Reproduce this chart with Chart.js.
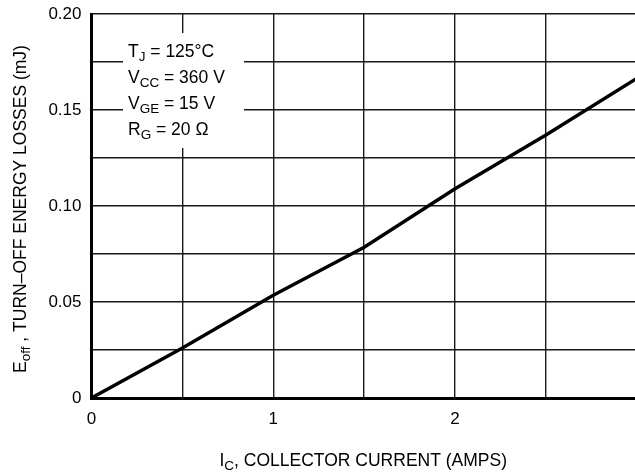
<!DOCTYPE html>
<html>
<head>
<meta charset="utf-8">
<script src="https://cdn.jsdelivr.net/npm/chart.js@4/dist/chart.umd.min.js"></script>
<style>
  html, body { margin: 0; padding: 0; background: #fff; }
  #wrap { width: 635px; height: 474px; }
</style>
</head>
<body>
<div id="wrap"><canvas id="c" width="635" height="474"></canvas></div>
<script>
// Turn-off energy loss vs. collector current
const currentAmps = [0, 0.5, 1, 1.5, 2, 2.5, 3];
const energyMJ    = [0, 0.026, 0.0535, 0.0785, 0.109, 0.137, 0.1665];

const xTickLabels = ['0', '1', '2'];
const yTickLabels = ['0', '0.05', '0.10', '0.15', '0.20'];

// Test conditions, each line split into [text, isSubscript] runs
const conditionLines = [
  [['T', false], ['J', true], [' = 125\u00B0C', false]],
  [['V', false], ['CC', true], [' = 360 V', false]],
  [['V', false], ['GE', true], [' = 15 V', false]],
  [['R', false], ['G', true], [' = 20 \u03A9', false]]
];
const xTitle = [['I', false], ['C', true], [', COLLECTOR CURRENT (AMPS)', false]];
const yTitle = [['E', false], ['off', true], [' , TURN\u2013OFF ENERGY LOSSES (mJ)', false]];

const FONT = '"Liberation Sans", Arial, Helvetica, sans-serif';
const BASE = 17.5;
const SUB = 13.5;

function runsWidth(ctx, runs) {
  let w = 0;
  for (const [t, sub] of runs) {
    ctx.font = (sub ? SUB : BASE) + 'px ' + FONT;
    w += ctx.measureText(t).width;
  }
  return w;
}
function drawRuns(ctx, runs, x, y) {
  ctx.textAlign = 'left';
  ctx.textBaseline = 'alphabetic';
  for (const [t, sub] of runs) {
    ctx.font = (sub ? SUB : BASE) + 'px ' + FONT;
    ctx.fillText(t, x, y + (sub ? 4 : 0));
    x += ctx.measureText(t).width;
  }
}

const annotations = {
  id: 'annotations',
  afterDraw(chart) {
    const ctx = chart.ctx;
    const area = chart.chartArea;
    ctx.save();
    ctx.fillStyle = '#fff';
    ctx.fillRect(123, 33, 121, 115);
    ctx.fillStyle = '#000';
    conditionLines.forEach((runs, i) => drawRuns(ctx, runs, 128, 56.5 + i * 26.3));

    // x-axis title
    const xw = runsWidth(ctx, xTitle);
    drawRuns(ctx, xTitle, (area.left + 635) / 2 - xw / 2, 466);

    // y-axis title, rotated
    const yw = runsWidth(ctx, yTitle);
    ctx.translate(25.5, 209);
    ctx.rotate(-Math.PI / 2);
    drawRuns(ctx, yTitle, -yw / 2, 0);
    ctx.restore();
  }
};

// keep the plot edges fixed regardless of tick label overflow
function noScalePadding(scale) {
  scale.paddingTop = 0;
  scale.paddingBottom = 0;
  scale.paddingLeft = 0;
  scale.paddingRight = 0;
}

const onHalfStep = v => Math.abs(v * 2 - Math.round(v * 2)) < 1e-6;

new Chart(document.getElementById('c'), {
  type: 'scatter',
  data: {
    datasets: [{
      data: currentAmps.map((x, i) => ({ x, y: energyMJ[i] })),
      showLine: true,
      borderColor: '#000',
      borderWidth: 3.4,
      pointRadius: 0,
      tension: 0,
      fill: false
    }]
  },
  options: {
    responsive: false,
    animation: false,
    devicePixelRatio: 1,
    layout: { padding: { top: 14, right: 0, left: 0, bottom: 0 } },
    plugins: { legend: { display: false }, tooltip: { enabled: false } },
    scales: {
      x: {
        type: 'linear',
        min: 0,
        max: 2.99,
        afterFit(scale) { scale.height = 76; noScalePadding(scale); },
        border: { display: true, color: '#000', width: 3 },
        grid: {
          color: c => (c.tick && onHalfStep(c.tick.value) ? '#1a1a1a' : 'rgba(0,0,0,0)'),
          lineWidth: 1.4,
          drawTicks: false
        },
        ticks: {
          stepSize: 0.5,
          padding: 11,
          color: '#000',
          font: { family: FONT, size: 17 },
          maxRotation: 0,
          autoSkip: false,
          callback(v) {
            return Number.isInteger(v) && xTickLabels[v] !== undefined ? xTickLabels[v] : '';
          }
        }
      },
      y: {
        type: 'linear',
        min: 0,
        max: 0.2,
        afterFit(scale) { scale.width = 91.5; noScalePadding(scale); },
        border: { display: true, color: '#000', width: 3 },
        grid: { color: '#1a1a1a', lineWidth: 1.4, drawTicks: false },
        ticks: {
          stepSize: 0.025,
          padding: 10,
          color: '#000',
          font: { family: FONT, size: 17 },
          autoSkip: false,
          callback(v) {
            const k = v / 0.05;
            return Math.abs(k - Math.round(k)) < 1e-6 ? yTickLabels[Math.round(k)] : '';
          }
        }
      }
    }
  },
  plugins: [annotations]
});
</script>
</body>
</html>
